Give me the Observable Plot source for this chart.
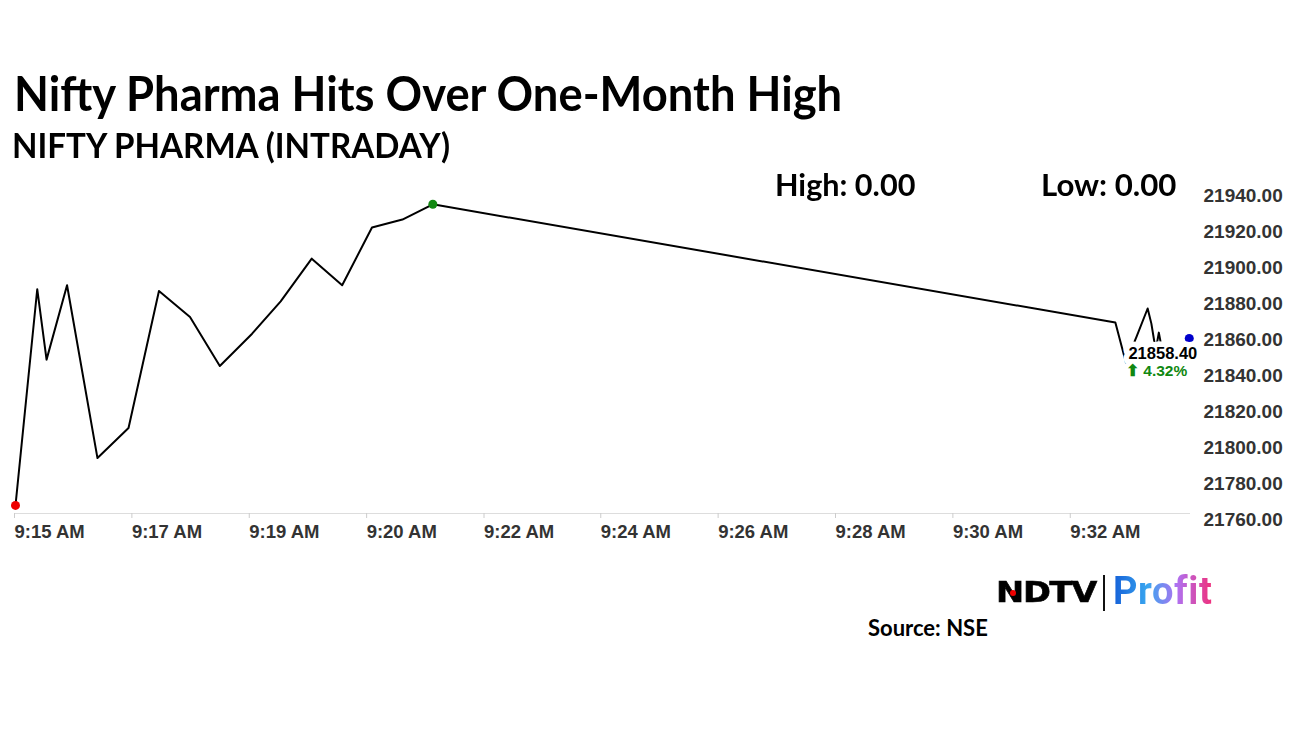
<!DOCTYPE html>
<html><head><meta charset="utf-8">
<script src="https://cdn.jsdelivr.net/npm/d3@7"></script>
<script src="https://cdn.jsdelivr.net/npm/@observablehq/plot@0.6"></script>
<style>
body{margin:0;background:#fff;width:1296px;height:729px;position:relative;overflow:hidden;font-family:Lato,sans-serif}
.t{position:absolute;white-space:nowrap;line-height:1;font-weight:700;color:#000;transform-origin:0 0}
#chart{position:absolute;left:0;top:150px}
#chart svg text{font-weight:bold}
</style></head><body>
<div class="t" style="left:14px;top:70px;font-size:47px;transform:scaleX(0.965)">Nifty Pharma Hits Over One-Month High</div>
<div class="t" style="left:12px;top:128px;font-size:34px;transform:scaleX(0.974)">NIFTY PHARMA (INTRADAY)</div>
<div class="t" style="left:775px;top:169px;font-size:30px;transform:scaleX(1.02)">High: 0.00</div>
<div class="t" style="left:1041px;top:169px;font-size:30px;transform:scaleX(1.04)">Low: 0.00</div>
<div class="t" style="left:868px;top:617px;font-size:22px">Source: NSE</div>
<div class="t" style="left:996px;top:579px;font-family:'DejaVu Sans';font-weight:900;font-size:28px;letter-spacing:-1px;transform:scaleX(1.2);-webkit-text-stroke:0.6px #000">NDTV</div>
<div style="position:absolute;left:1010px;top:590px;width:6px;height:6px;border-radius:3px;background:#e00"></div>
<div style="position:absolute;left:1103px;top:575px;width:2px;height:36px;background:#111"></div>
<div class="t" style="left:1113px;top:572px;font-family:Roboto;font-size:38px;letter-spacing:0.6px;background:linear-gradient(90deg,#1560d8,#39a6f0 35%,#b070f0 65%,#f0307c);-webkit-background-clip:text;background-clip:text;color:transparent">Profit</div>
<div id="chart"></div>
<script>
const minutes = [0, 0.35, 0.5, 0.83, 1.32, 1.82, 2.31, 2.81, 3.29, 3.81, 4.27, 4.77, 5.26, 5.74, 6.23, 6.72, 17.71, 17.88, 18.05, 18.23, 18.29, 18.36, 18.41, 18.47, 18.83, 18.9];
const values = [21765.6, 21885.7, 21846.6, 21887.9, 21791.9, 21808.6, 21884.7, 21870.3, 21843.1, 21861.0, 21879.0, 21902.7, 21887.9, 21920.0, 21924.4, 21932.9, 21867.2, 21845.0, 21859.2, 21875.0, 21866.6, 21851.8, 21861.6, 21850.6, 21851.5, 21858.4];
const tickMinutes = [0, 1.89, 3.78, 5.67, 7.56, 9.44, 11.33, 13.22, 15.11, 17.0];
const tickLabels = ["9:15 AM", "9:17 AM", "9:19 AM", "9:20 AM", "9:22 AM", "9:24 AM", "9:26 AM", "9:28 AM", "9:30 AM", "9:32 AM"];
const yTicks = [21760, 21780, 21800, 21820, 21840, 21860, 21880, 21900, 21920, 21940];
const lastLabel = "21858.40";
const changeLabel = "\u2B06 4.32%";

const data = minutes.map((m, i) => ({m, v: values[i]}));
const first = data[0];
const last = data[data.length - 1];
const high = data.reduce((a, b) => (b.v > a.v ? b : a));

const chart = Plot.plot({
  width: 1296,
  height: 420,
  marginLeft: 15,
  marginRight: 106,
  marginTop: 41,
  marginBottom: 55,
  style: {fontFamily: "'Liberation Sans', Arial, sans-serif", background: "transparent"},
  x: {domain: [0, 18.92]},
  y: {domain: [21760, 21940]},
  marks: [
    Plot.ruleY([21760], {stroke: "#ddd", strokeWidth: 1, dy: -2}),
    Plot.axisX({ticks: tickMinutes, tickFormat: (d, i) => tickLabels[i], textAnchor: "start", tickSize: 5, tickPadding: 6, dy: -2, dx: -1, stroke: "#ccc", fill: "#333", fontSize: 18.5, label: null}),
    Plot.axisY({anchor: "right", ticks: yTicks, tickFormat: d3.format(".2f"), tickSize: 0, tickPadding: 13, dy: 4, fill: "#333", fontSize: 19, label: null}),
    Plot.line(data, {x: "m", y: "v", stroke: "#000", strokeWidth: 2}),
    Plot.dot([first], {x: "m", y: "v", r: 4.5, fill: "#ee0000"}),
    Plot.dot([high], {x: "m", y: "v", r: 4.5, fill: "#118811"}),
    Plot.dot([last], {x: "m", y: "v", r: 4.5, fill: "#0000cc"}),
    Plot.text([last], {x: "m", y: "v", text: () => lastLabel, textAnchor: "end", dx: 8, dy: 15, fontSize: 16.5, fill: "#000", stroke: "white", strokeWidth: 11}),
    Plot.text([last], {x: "m", y: "v", text: () => changeLabel, textAnchor: "end", dx: -2, dy: 33, fontSize: 15.5, fill: "#118811", stroke: "white", strokeWidth: 9})
  ]
});
document.getElementById("chart").appendChild(chart);
</script>
</body></html>
